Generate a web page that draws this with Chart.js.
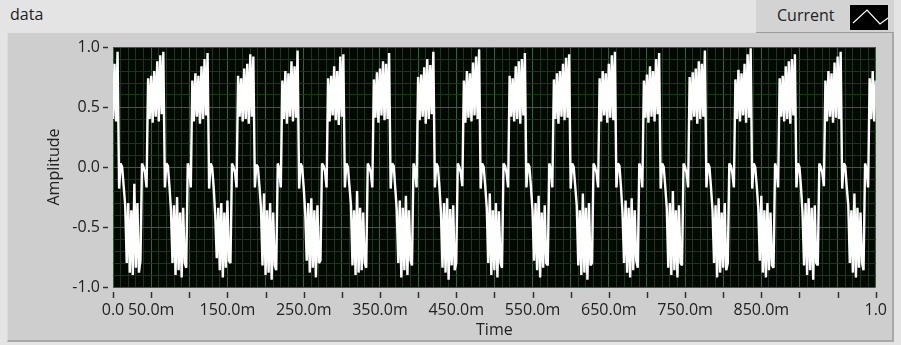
<!DOCTYPE html>
<html>
<head>
<meta charset="utf-8">
<script src="https://cdn.jsdelivr.net/npm/chart.js@4"></script>
<style>
    html, body { margin: 0; padding: 0; }
    body {
        width: 901px; height: 345px; position: relative; overflow: hidden;
        background: #e4e4e4; font-family: "Open Sans", sans-serif; color: #222;
    }
    #panel {
        position: absolute; left: 7px; top: 33px; width: 887px; height: 309px;
        box-sizing: border-box; background: #cecece;
        border-left: 1px solid #dcdcdc; border-right: 2px solid #a8a8a8; border-bottom: 2px solid #a8a8a8;
    }
    #name { position: absolute; left: 10px; top: 3px; font-size: 16px; }
    #legend {
        position: absolute; left: 756px; top: 0; width: 138px; height: 32px;
        background: #d3d3d3; border-bottom: 1px solid #9c9c9c;
    }
    #legend span { position: absolute; left: 21px; top: 4px; font-size: 16px; }
    #legend svg { position: absolute; left: 94px; top: 5px; }
    #chartBox { position: absolute; left: 0; top: 0; width: 901px; height: 345px; }
</style>
</head>
<body>
<div id="panel"></div>
<div id="name">data</div>
<div id="legend">
    <span>Current</span>
    <svg width="38" height="25"><rect width="38" height="25" fill="#000"/><polyline points="3,18 17,5 30,19 38,13" fill="none" stroke="#fff" stroke-width="1.2"/></svg>
</div>
<div id="chartBox"><canvas id="graph" width="901" height="345"></canvas></div>
<script>
// waveform: t0 + i*dt (one line per period)
const t0 = 0;
const dt = 0.002;
const current = [
    0.40, 0.86, 0.38, 0.96, -0.18, 0.03, 0.00, -0.16, -0.32, -0.80, -0.30, -0.88, -0.36, -0.90, -0.14, -0.84, -0.30, -0.88, -0.78, 0.03, 0.00, -0.05, -0.17,
    0.74, 0.40, 0.76, 0.37, 0.80, 0.42, 0.88, 0.38, 0.93, 0.44, 0.96, -0.17, 0.03, 0.01, -0.16, -0.36, -0.80, -0.32, -0.90, -0.25, -0.86, -0.38, -0.92, -0.34, -0.80, -0.84, 0.03, -0.02, -0.17,
    0.72, 0.38, 0.78, 0.42, 0.76, 0.36, 0.84, 0.40, 0.90, 0.43, 0.95, -0.18, 0.03, 0.00, -0.17, -0.40, -0.76, -0.34, -0.86, -0.30, -0.92, -0.38, -0.84, -0.28, -0.78, -0.80, 0.03, 0.00, -0.05, -0.17,
    0.76, 0.42, 0.74, 0.38, 0.82, 0.40, 0.86, 0.36, 0.94, 0.42, 0.92, -0.17, 0.02, 0.00, -0.16, -0.34, -0.82, -0.22, -0.90, -0.36, -0.88, -0.30, -0.94, -0.38, -0.82, -0.86, 0.03, -0.02, -0.17,
    0.72, 0.40, 0.80, 0.36, 0.78, 0.42, 0.88, 0.38, 0.84, 0.41, 0.97, -0.18, 0.03, 0.00, -0.17, -0.38, -0.78, -0.30, -0.88, -0.26, -0.84, -0.36, -0.92, -0.32, -0.80, -0.78, 0.03, 0.01, -0.04, -0.17,
    0.74, 0.38, 0.76, 0.43, 0.84, 0.39, 0.80, 0.35, 0.92, 0.42, 0.94, -0.17, 0.03, 0.00, -0.16, -0.32, -0.82, -0.36, -0.90, -0.20, -0.88, -0.34, -0.86, -0.38, -0.80, -0.84, 0.03, 0.00, -0.05, -0.17,
    0.73, 0.41, 0.79, 0.37, 0.82, 0.43, 0.88, 0.39, 0.86, 0.40, 0.95, -0.18, 0.03, 0.01, -0.17, -0.36, -0.80, -0.28, -0.92, -0.34, -0.86, -0.24, -0.90, -0.36, -0.78, -0.82, 0.03, -0.02, -0.17,
    0.75, 0.39, 0.77, 0.42, 0.83, 0.36, 0.90, 0.40, 0.85, 0.44, 0.96, -0.17, 0.03, 0.00, -0.17, -0.38, -0.84, -0.30, -0.88, -0.26, -0.94, -0.35, -0.82, -0.32, -0.86, -0.80, 0.03, 0.00, -0.05, -0.16,
    0.72, 0.37, 0.80, 0.41, 0.78, 0.38, 0.87, 0.43, 0.92, 0.40, 0.98, -0.18, 0.03, 0.00, -0.16, -0.34, -0.80, -0.22, -0.90, -0.36, -0.86, -0.30, -0.92, -0.37, -0.80, -0.84, 0.03, 0.01, -0.05, -0.17,
    0.76, 0.42, 0.74, 0.38, 0.84, 0.40, 0.88, 0.36, 0.90, 0.43, 0.95, -0.17, 0.03, 0.00, -0.17, -0.36, -0.78, -0.30, -0.86, -0.24, -0.92, -0.38, -0.84, -0.32, -0.80, -0.82, 0.03, -0.02, -0.17,
    0.73, 0.40, 0.78, 0.36, 0.80, 0.42, 0.86, 0.39, 0.91, 0.41, 0.94, -0.18, 0.03, 0.00, -0.16, -0.32, -0.82, -0.36, -0.90, -0.22, -0.88, -0.34, -0.94, -0.30, -0.82, -0.80, 0.03, 0.00, -0.05, -0.17,
    0.74, 0.38, 0.80, 0.43, 0.78, 0.37, 0.86, 0.41, 0.93, 0.39, 0.96, -0.17, 0.03, 0.01, -0.17, -0.38, -0.80, -0.28, -0.88, -0.34, -0.92, -0.26, -0.86, -0.36, -0.78, -0.84, 0.03, -0.02, -0.17,
    0.72, 0.41, 0.77, 0.37, 0.84, 0.42, 0.80, 0.38, 0.90, 0.44, 0.95, -0.18, 0.03, 0.00, -0.16, -0.34, -0.84, -0.30, -0.90, -0.20, -0.86, -0.36, -0.92, -0.32, -0.80, -0.82, 0.03, 0.00, -0.05, -0.17,
    0.75, 0.39, 0.79, 0.42, 0.82, 0.36, 0.88, 0.40, 0.86, 0.42, 0.97, -0.17, 0.03, 0.00, -0.17, -0.36, -0.80, -0.32, -0.92, -0.26, -0.88, -0.38, -0.84, -0.30, -0.86, -0.80, 0.03, 0.01, -0.05, -0.17,
    0.73, 0.40, 0.81, 0.38, 0.78, 0.43, 0.86, 0.37, 0.94, 0.41, 0.99, -0.18, 0.03, 0.00, -0.16, -0.34, -0.78, -0.24, -0.88, -0.36, -0.92, -0.30, -0.86, -0.38, -0.82, -0.84, 0.03, -0.02, -0.17,
    0.74, 0.42, 0.76, 0.38, 0.84, 0.40, 0.88, 0.36, 0.90, 0.43, 0.94, -0.17, 0.03, 0.00, -0.17, -0.38, -0.82, -0.30, -0.90, -0.26, -0.86, -0.34, -0.94, -0.32, -0.80, -0.82, 0.03, 0.00, -0.05, -0.16,
    0.72, 0.38, 0.80, 0.42, 0.78, 0.37, 0.87, 0.41, 0.92, 0.40, 0.96, -0.18, 0.03, 0.01, -0.17, -0.32, -0.80, -0.36, -0.88, -0.22, -0.92, -0.34, -0.84, -0.38, -0.80, -0.86, 0.03, -0.02, -0.17,
    0.74, 0.40, 0.80, 0.38, 0.72
];

const xTickValues = [0, 0.05, 0.15, 0.25, 0.35, 0.45, 0.55, 0.65, 0.75, 0.85, 1];
const xTickLabels = ['0.0', '50.0m', '150.0m', '250.0m', '350.0m', '450.0m', '550.0m', '650.0m', '750.0m', '850.0m', '1.0'];
const yTickValues = [-1, -0.5, 0, 0.5, 1];
const yTickLabels = ['-1.0', '-0.5', '0.0', '0.5', '1.0'];

const majorGrid = 'rgb(42, 104, 44)';
const minorGrid = 'rgb(22, 58, 24)';
const textColor = '#222';
const font16 = { family: '"Open Sans", sans-serif', size: 16 };

function labelFor(values, labels, v) {
    const k = values.findIndex(x => Math.abs(x - v) < 1e-6);
    return k >= 0 ? labels[k] : '';
}

// black plot background + LabVIEW style tick marks off the plot edge
const plotFrame = {
    id: 'plotFrame',
    beforeDraw(chart) {
        const a = chart.chartArea;
        const c = chart.ctx;
        c.save();
        c.fillStyle = '#030803';
        c.fillRect(a.left, a.top, a.right - a.left, a.bottom - a.top);
        c.restore();
    },
    afterDraw(chart) {
        const a = chart.chartArea;
        const c = chart.ctx;
        c.save();
        c.strokeStyle = '#333';
        c.lineWidth = 1.5;
        chart.scales.x.ticks.forEach(t => {
            if (Math.round(t.value * 100) % 5 !== 0) return;
            const px = Math.round(chart.scales.x.getPixelForValue(t.value)) + 0.5;
            c.beginPath();
            c.moveTo(px, a.bottom + 5);
            c.lineTo(px, a.bottom + 11);
            c.stroke();
        });
        yTickValues.forEach(v => {
            const py = Math.round(chart.scales.y.getPixelForValue(v)) + 0.5;
            c.beginPath();
            c.moveTo(a.left - 10, py);
            c.lineTo(a.left - 5, py);
            c.stroke();
        });
        c.restore();
    }
};

const points = current.map((y, i) => ({ x: t0 + i * dt, y: y }));

const ctx = document.getElementById('graph').getContext('2d');
const graph = new Chart(ctx, {
    type: 'line',
    data: {
        datasets: [
            {
                label: 'Current',
                data: points,
                borderColor: '#ffffff',
                borderWidth: 2.4,
                borderJoinStyle: 'bevel',
                pointRadius: 0,
                tension: 0,
                fill: false
            }
        ]
    },
    options: {
        responsive: false,
        animation: false,
        layout: { padding: { left: 0, right: 25, top: 47, bottom: 0 } },
        scales: {
            x: {
                type: 'linear',
                min: 0,
                max: 1,
                afterFit: s => { s.height = 58; },
                border: { display: false },
                grid: {
                    drawTicks: false,
                    color: c => Math.round(c.tick.value * 100) % 5 === 0 ? majorGrid : minorGrid
                },
                ticks: {
                    stepSize: 0.01,
                    autoSkip: false,
                    maxRotation: 0,
                    padding: 14,
                    color: textColor,
                    font: font16,
                    callback: v => labelFor(xTickValues, xTickLabels, v)
                },
                title: {
                    display: true,
                    text: 'Time',
                    color: textColor,
                    font: font16,
                    padding: { top: 0, bottom: 5 }
                }
            },
            y: {
                min: -1,
                max: 1,
                afterFit: s => { s.width = 113; },
                border: { display: false },
                grid: {
                    drawTicks: false,
                    color: c => Math.round(c.tick.value * 10) % 5 === 0 ? majorGrid : minorGrid
                },
                ticks: {
                    stepSize: 0.1,
                    autoSkip: false,
                    padding: 13,
                    color: textColor,
                    font: font16,
                    callback: v => labelFor(yTickValues, yTickLabels, v)
                },
                title: {
                    display: true,
                    text: 'Amplitude',
                    color: textColor,
                    font: font16,
                    padding: { top: 45, bottom: 0 }
                }
            }
        },
        plugins: {
            legend: { display: false },
            tooltip: { enabled: false }
        }
    },
    plugins: [plotFrame]
});
</script>
</body>
</html>
